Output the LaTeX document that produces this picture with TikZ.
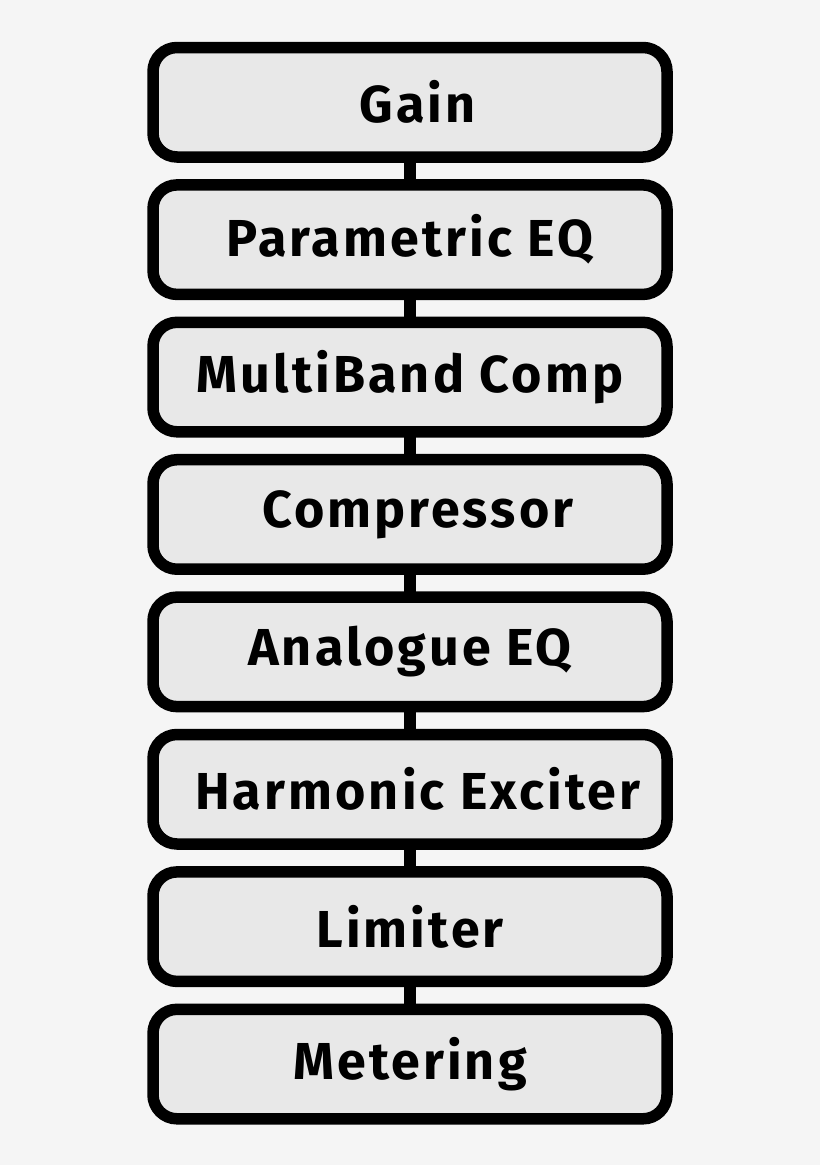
\documentclass[tikz,border=0pt]{standalone}
\usepackage{fontspec}
\setmainfont{Fira Sans}
\newfontfamily\stagefont[LetterSpace=6]{Fira Sans}
\usepackage{tikz}
\definecolor{pagegray}{HTML}{F5F5F5}
\definecolor{boxgray}{HTML}{E8E8E8}
\tikzset{
	stage/.style={draw=black, fill=boxgray, line width=11.5pt, rounded corners=24pt,
		minimum width=514pt, minimum height=109.5pt, outer sep=0pt, inner sep=0pt,
		font=\stagefont\fontsize{52}{60}\selectfont\bfseries},
	link/.style={line width=11.5pt}
}
\begin{document}
\begin{tikzpicture}[x=1pt,y=1pt]
	\fill[pagegray] (0,0) rectangle (820,-1165);
	\useasboundingbox (0,0) rectangle (820,-1165);
	% stages, top to bottom
	\foreach \n/\ntext in {1/~Gain, 2/Parametric EQ, 3/MultiBand Comp, 4/~Compressor,
		5/Analogue EQ, 6/~Harmonic Exciter, 7/Limiter, 8/Metering}
		\node[stage] (s\n) at (410,{-102.25-137.4*(\n-1)}) {\ntext};
	% links
	\foreach \a/\b in {1/2, 2/3, 3/4, 4/5, 5/6, 6/7, 7/8}
		\draw[link] (s\a.south) -- (s\b.north);
\end{tikzpicture}
\end{document}
